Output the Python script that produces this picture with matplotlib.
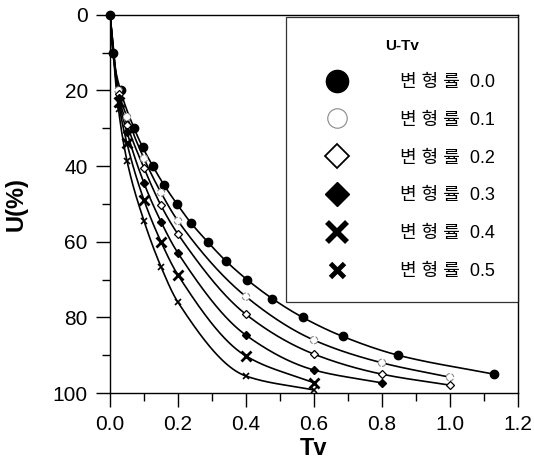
import numpy as np
import matplotlib
matplotlib.use('Agg')
import matplotlib.pyplot as plt
from matplotlib.lines import Line2D

plt.rcParams['font.family'] = ['Liberation Sans', 'Noto Sans CJK KR', 'DejaVu Sans']

# data
tv_00 = [0, 0.008, 0.031, 0.071, 0.096, 0.126, 0.159, 0.197, 0.238, 0.287, 0.340, 0.403, 0.477, 0.567, 0.684, 0.848, 1.129]
u_00 = [0, 10, 20, 30, 35, 40, 45, 50, 55, 60, 65, 70, 75, 80, 85, 90, 95]

tv_01 = [0, 0.025, 0.05, 0.1, 0.15, 0.2, 0.4, 0.6, 0.8, 1.0]
u_01 = [0, 20, 27, 38, 47, 54.5, 74.5, 86, 92, 95.8]

tv_02 = [0, 0.025, 0.05, 0.1, 0.15, 0.2, 0.4, 0.6, 0.8, 1.0]
u_02 = [0, 21, 29, 40.5, 50.4, 58, 79.2, 89.7, 95, 97.9]

tv_03 = [0, 0.025, 0.05, 0.1, 0.15, 0.2, 0.4, 0.6, 0.8]
u_03 = [0, 22, 31, 44.5, 54.7, 63, 84.7, 93.9, 97.3]

tv_04 = [0, 0.025, 0.05, 0.1, 0.15, 0.2, 0.4, 0.6]
u_04 = [0, 23, 34, 49, 60, 68.8, 90.2, 97.3]

tv_05 = [0, 0.025, 0.05, 0.1, 0.15, 0.2, 0.4, 0.6]
u_05 = [0, 25, 38.6, 54.5, 66.6, 76, 95.5, 99.2]

labels = ['변 형 률  0.0', '변 형 률  0.1', '변 형 률  0.2',
          '변 형 률  0.3', '변 형 률  0.4', '변 형 률  0.5']


def smooth(x, y, n=400):
    # monotone cubic (pchip) through the points, only for drawing the line
    x = np.asarray(x, float)
    y = np.asarray(y, float)
    h = np.diff(x)
    d = np.diff(y) / h
    m = np.zeros_like(x)
    for i in range(1, len(x) - 1):
        if d[i - 1] * d[i] > 0:
            w1 = 2 * h[i] + h[i - 1]
            w2 = h[i] + 2 * h[i - 1]
            m[i] = (w1 + w2) / (w1 / d[i - 1] + w2 / d[i])
    m[0] = d[0]
    m[-1] = d[-1]
    xs = np.linspace(x[0], x[-1], n)
    k = np.clip(np.searchsorted(x, xs) - 1, 0, len(x) - 2)
    t = (xs - x[k]) / h[k]
    h00 = 2 * t**3 - 3 * t**2 + 1
    h10 = t**3 - 2 * t**2 + t
    h01 = -2 * t**3 + 3 * t**2
    h11 = t**3 - t**2
    ys = h00 * y[k] + h10 * h[k] * m[k] + h01 * y[k + 1] + h11 * h[k] * m[k + 1]
    return xs, ys


fig = plt.figure(figsize=(5.34, 4.63), dpi=100)
ax = fig.add_axes([0.206, 0.151, 0.764, 0.817])

series = [(tv_00, u_00), (tv_01, u_01), (tv_02, u_02), (tv_03, u_03), (tv_04, u_04), (tv_05, u_05)]
for tv, u in series:
    xs, ys = smooth(tv, u)
    ax.plot(xs, ys, color='black', lw=1.2, zorder=2)

ax.plot(tv_00, u_00, 'o', color='black', ms=6, zorder=3, clip_on=False)
ax.scatter(tv_01[1:], u_01[1:], s=28, facecolors='white', edgecolors='#888888',
           linewidths=0.8, linestyles='--', zorder=3)
ax.plot(tv_02[1:], u_02[1:], 'D', mfc='white', mec='black', mew=0.9, ms=4, zorder=3)
ax.plot(tv_03[1:], u_03[1:], 'D', color='black', ms=4, zorder=3)
ax.plot(tv_04[1:], u_04[1:], 'x', color='black', mew=2, ms=7, zorder=3)
ax.plot(tv_05[1:], u_05[1:], 'x', color='black', mew=1.2, ms=4, zorder=3)

ax.set_xlim(0, 1.2)
ax.set_ylim(100, 0)
ax.set_xticks(np.arange(0, 1.21, 0.2))
ax.set_xticks(np.arange(0.1, 1.2, 0.2), minor=True)
ax.set_yticks(np.arange(0, 101, 20))
ax.set_yticks(np.arange(10, 100, 20), minor=True)
ax.set_xticklabels(['0.0', '0.2', '0.4', '0.6', '0.8', '1.0', '1.2'])
ax.tick_params(which='major', direction='out', length=10, width=1, labelsize=15, pad=6)
ax.tick_params(which='minor', direction='out', length=6, width=1)
for s in ax.spines.values():
    s.set_linewidth(1)

ax.set_xlabel('Tv', fontsize=17, fontweight='bold', labelpad=2)
ax.set_ylabel('U(%)', fontsize=17, fontweight='bold', labelpad=18)

handles = [
    Line2D([], [], ls='none', marker='o', color='black', ms=16),
    Line2D([], [], ls='none', marker='o', mfc='white', mec='#888888', mew=0.8, ms=14),
    Line2D([], [], ls='none', marker='D', mfc='white', mec='black', mew=1.3, ms=12),
    Line2D([], [], ls='none', marker='D', color='black', ms=12),
    Line2D([], [], ls='none', marker='x', color='black', mew=4, ms=14),
    Line2D([], [], ls='none', marker='x', color='black', mew=3.5, ms=10),
]
leg = ax.legend(handles, labels, title='U-Tv', loc='upper right',
                bbox_to_anchor=(1.0, 0.995), fontsize=13,
                title_fontproperties={'weight': 'bold', 'size': 11},
                frameon=True, fancybox=False, edgecolor='black', labelspacing=1.15,
                handletextpad=1.9, borderpad=1.25, handlelength=3.2, borderaxespad=0)
leg.get_frame().set_linewidth(0.9)
leg._legend_box.align = 'center'

fig.savefig('out.png', dpi=100)
